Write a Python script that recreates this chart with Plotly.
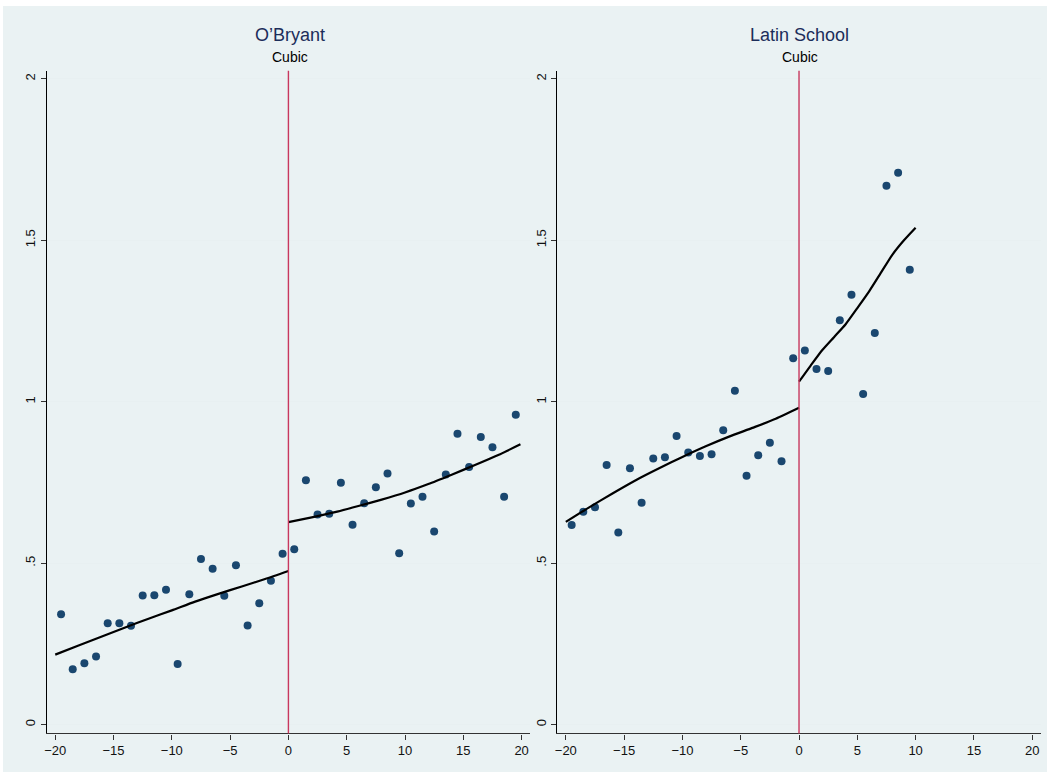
import plotly.graph_objects as go

# ---------------- data ----------------
obryant_x = [-19.5, -18.5, -17.5, -16.5, -15.5, -14.5, -13.5, -12.5, -11.5, -10.5,
             -9.5, -8.5, -7.5, -6.5, -5.5, -4.5, -3.5, -2.5, -1.5, -0.5,
             0.5, 1.5, 2.5, 3.5, 4.5, 5.5, 6.5, 7.5, 8.5, 9.5,
             10.5, 11.5, 12.5, 13.5, 14.5, 15.5, 16.5, 17.5, 18.5, 19.5]
obryant_y = [0.342, 0.172, 0.190, 0.211, 0.314, 0.314, 0.306, 0.400, 0.401, 0.418,
             0.188, 0.404, 0.513, 0.483, 0.399, 0.494, 0.307, 0.376, 0.446, 0.529,
             0.543, 0.757, 0.651, 0.653, 0.749, 0.619, 0.686, 0.735, 0.778, 0.531,
             0.685, 0.706, 0.598, 0.775, 0.901, 0.798, 0.891, 0.859, 0.706, 0.960]

obryant_fit_left_x = [-20, -18, -16, -14, -12, -10, -8, -6, -4, -2, 0]
obryant_fit_left_y = [0.217, 0.245, 0.273, 0.301, 0.328, 0.354, 0.381, 0.405, 0.428, 0.451, 0.476]
obryant_fit_right_x = [0, 2, 4, 6, 8, 10, 12, 14, 16, 18, 19.9]
obryant_fit_right_y = [0.627, 0.642, 0.658, 0.677, 0.697, 0.719, 0.745, 0.774, 0.804, 0.835, 0.868]

latin_x = [-19.5, -18.5, -17.5, -16.5, -15.5, -14.5, -13.5, -12.5, -11.5, -10.5,
           -9.5, -8.5, -7.5, -6.5, -5.5, -4.5, -3.5, -2.5, -1.5, -0.5,
           0.5, 1.5, 2.5, 3.5, 4.5, 5.5, 6.5, 7.5, 8.5, 9.5]
latin_y = [0.618, 0.659, 0.673, 0.804, 0.595, 0.794, 0.687, 0.824, 0.828, 0.894,
           0.843, 0.832, 0.837, 0.912, 1.034, 0.771, 0.834, 0.873, 0.816, 1.135,
           1.159, 1.101, 1.095, 1.252, 1.331, 1.024, 1.213, 1.669, 1.709, 1.409]

latin_fit_left_x = [-20, -18, -16, -14, -12, -10, -8, -6, -4, -2, 0]
latin_fit_left_y = [0.628, 0.673, 0.716, 0.757, 0.794, 0.829, 0.862, 0.892, 0.919, 0.947, 0.981]
latin_fit_right_x = [0, 1, 2, 3, 4, 5, 6, 7, 8, 9, 10]
latin_fit_right_y = [1.062, 1.112, 1.160, 1.200, 1.240, 1.290, 1.341, 1.398, 1.455, 1.500, 1.539]

panel_titles = ["O\u2019Bryant", "Latin School"]
subtitle = "Cubic"
x_ticks = [-20, -15, -10, -5, 0, 5, 10, 15, 20]
y_ticks = [0, 0.5, 1, 1.5, 2]
y_ticklabels = ["0", ".5", "1", "1.5", "2"]

# ---------------- style ----------------
W, H = 1050, 772
BG = "#EAF2F3"
NAVY = "#1A476F"
RED = "#C8385E"
GRID = "#E8F0F1"
FONT = "Liberation Sans, Arial, sans-serif"

dom_left = [46.6 / W, 530 / W]
dom_right = [557.2 / W, 1040.6 / W]
dom_y = [1 - 733.4 / H, 1 - 70.7 / H]

fig = go.Figure()

panels = [
    (obryant_x, obryant_y, obryant_fit_left_x, obryant_fit_left_y,
     obryant_fit_right_x, obryant_fit_right_y, "x", "y"),
    (latin_x, latin_y, latin_fit_left_x, latin_fit_left_y,
     latin_fit_right_x, latin_fit_right_y, "x2", "y2"),
]
for (px, py, flx, fly, frx, fry, xa, ya) in panels:
    fig.add_trace(go.Scatter(x=px, y=py, mode="markers", xaxis=xa, yaxis=ya,
                             marker=dict(color=NAVY, size=8, line=dict(width=0)),
                             showlegend=False, hoverinfo="skip"))
    fig.add_trace(go.Scatter(x=flx, y=fly, mode="lines", xaxis=xa, yaxis=ya,
                             line=dict(color="black", width=2.2, shape="spline", smoothing=0.6),
                             showlegend=False, hoverinfo="skip"))
    fig.add_trace(go.Scatter(x=frx, y=fry, mode="lines", xaxis=xa, yaxis=ya,
                             line=dict(color="black", width=2.2, shape="spline", smoothing=0.6),
                             showlegend=False, hoverinfo="skip"))

xaxis_common = dict(range=[-20.74, 20.72], tickmode="array", tickvals=x_ticks,
                    ticks="outside", ticklen=5, tickwidth=1, tickcolor="#333333",
                    showline=True, linecolor="#333333", linewidth=1.2,
                    showgrid=False, zeroline=False, automargin=False,
                    tickfont=dict(family=FONT, size=13, color="#111111"))
yaxis_common = dict(range=[-0.027, 2.025], tickmode="array", tickvals=y_ticks,
                    ticktext=y_ticklabels, tickangle=-90,
                    ticks="outside", ticklen=5, tickwidth=1, tickcolor="#333333",
                    showline=True, linecolor="black", linewidth=1.2,
                    showgrid=True, gridcolor=GRID, gridwidth=1,
                    zeroline=False, automargin=False,
                    tickfont=dict(family=FONT, size=13, color="#111111"))

fig.update_layout(
    width=W, height=H,
    margin=dict(l=0, r=0, t=0, b=0),
    paper_bgcolor="white",
    plot_bgcolor="white",
    xaxis=dict(domain=dom_left, anchor="y", **xaxis_common),
    yaxis=dict(domain=dom_y, anchor="x", **yaxis_common),
    xaxis2=dict(domain=dom_right, anchor="y2", **xaxis_common),
    yaxis2=dict(domain=dom_y, anchor="x2", **yaxis_common),
)

shapes = [
    dict(type="rect", xref="paper", yref="paper", x0=3 / W, x1=1047 / W,
         y0=0, y1=1 - 6 / H, fillcolor=BG, line=dict(width=0), layer="below"),
]
for xa in ["x", "x2"]:
    shapes.append(dict(type="line", xref=xa, yref=xa.replace("x", "y") + " domain",
                       x0=0, x1=0, y0=0, y1=1,
                       line=dict(color=RED, width=1.4), layer="above"))
fig.update_layout(shapes=shapes)

centers = [(dom_left[0] + dom_left[1]) / 2 + 2 / W, (dom_right[0] + dom_right[1]) / 2 + 1 / W]
annotations = []
for c, t in zip(centers, panel_titles):
    annotations.append(dict(text=t, x=c, y=1 - 35 / H, xref="paper", yref="paper",
                            showarrow=False, xanchor="center", yanchor="middle",
                            font=dict(family=FONT, size=18, color="#1C2D5A")))
    annotations.append(dict(text=subtitle, x=c, y=1 - 57 / H, xref="paper", yref="paper",
                            showarrow=False, xanchor="center", yanchor="middle",
                            font=dict(family=FONT, size=14, color="black")))
fig.update_layout(annotations=annotations)

fig.write_html("out.html")
